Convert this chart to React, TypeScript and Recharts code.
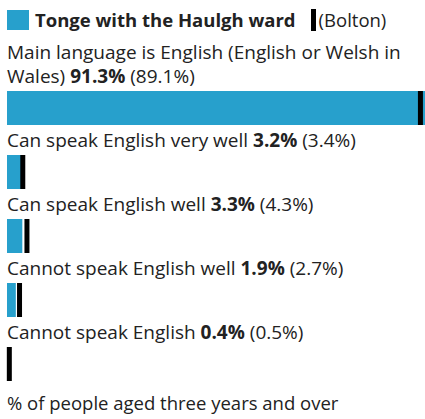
import React from "react";
import { Bar, BarChart, XAxis, YAxis } from "recharts";

// Tonge with the Haulgh ward vs Bolton — English proficiency, % of people aged 3+
const categories = [
  "Main language is English (English or Welsh in Wales)",
  "Can speak English very well",
  "Can speak English well",
  "Cannot speak English well",
  "Cannot speak English",
];
const wardValues = [91.3, 3.2, 3.3, 1.9, 0.4];
const boltonValues = [89.1, 3.4, 4.3, 2.7, 0.5];

const AREA_NAME = "Tonge with the Haulgh ward";
const COMPARE_NAME = "(Bolton)";
const FOOTNOTE = "% of people aged three years and over";

const BLUE = "#27a0cc";
const INK = "#222";
const FONT = "'Open Sans', sans-serif";
const FS = 19;
const FS_SMALL = 18.5;
const LINE_H = 24;
const WRAP_W = 414;

const data = categories.map((name, i) => ({
  name,
  ward: wardValues[i],
  bolton: boltonValues[i],
}));

let ctx: CanvasRenderingContext2D | null = null;
function measure(s: string, bold: boolean) {
  if (!ctx) ctx = document.createElement("canvas").getContext("2d");
  if (!ctx) return s.length * FS * 0.55;
  ctx.font = `${bold ? 700 : 400} ${FS}px ${FONT}`;
  return ctx.measureText(s).width;
}

type Word = { t: string; bold: boolean };

// simple word wrap so the long first label breaks like the original
function wrap(words: Word[]): Word[][] {
  const lines: Word[][] = [[]];
  let w = 0;
  const space = measure(" ", false);
  for (const wd of words) {
    const ww = measure(wd.t, wd.bold);
    const cur = lines[lines.length - 1];
    if (cur.length && w + space + ww > WRAP_W) {
      lines.push([wd]);
      w = ww;
    } else {
      w += (cur.length ? space : 0) + ww;
      cur.push(wd);
    }
  }
  return lines;
}

function BarWithMarker(props: any) {
  const { x, y, width, height, payload } = props;
  const perUnit = width / payload.ward;
  const mx = x + payload.bolton * perUnit;
  const words: Word[] = [
    ...payload.name.split(" ").map((t: string) => ({ t, bold: false })),
    { t: `${payload.ward}%`, bold: true },
    { t: `(${payload.bolton}%)`, bold: false },
  ];
  const lines = wrap(words);
  const baseY = y - 8;
  return (
    <g>
      {lines.map((ln, li) => (
        <text
          key={li}
          x={x}
          y={baseY - (lines.length - 1 - li) * LINE_H}
          fontFamily={FONT}
          fontSize={FS}
          fill={INK}
        >
          {ln.map((wd, wi) => (
            <tspan key={wi} fontWeight={wd.bold ? 700 : 400}>
              {(wi ? " " : "") + wd.t}
            </tspan>
          ))}
        </text>
      ))}
      <rect x={x} y={y} width={width} height={height} fill={BLUE} />
      <rect x={mx - 2.5} y={y} width={5} height={height} fill="#000" />
    </g>
  );
}

export default function App() {
  return (
    <div
      style={{
        position: "absolute",
        left: 0,
        top: 0,
        width: 425,
        height: 419,
        overflow: "hidden",
        fontFamily: FONT,
        color: INK,
        background: "#fff",
      }}
    >
      <div
        style={{
          position: "absolute",
          left: 7,
          top: 9,
          display: "flex",
          alignItems: "center",
          fontSize: FS_SMALL,
          lineHeight: "22px",
        }}
      >
        <span style={{ width: 22, height: 20, background: BLUE, display: "inline-block" }} />
        <span style={{ fontWeight: 700, marginLeft: 6 }}>{AREA_NAME}</span>
        <span
          style={{ width: 5, height: 22, background: "#000", display: "inline-block", marginLeft: 15 }}
        />
        <span style={{ marginLeft: 3 }}>{COMPARE_NAME}</span>
      </div>
      <BarChart
        width={471}
        height={419}
        data={data}
        layout="vertical"
        margin={{ top: 76, right: 0, bottom: 23, left: 7 }}
      >
        <XAxis type="number" domain={[0, 100]} hide />
        <YAxis type="category" dataKey="name" hide width={0} />
        <Bar dataKey="ward" barSize={34} shape={BarWithMarker} isAnimationActive={false} />
      </BarChart>
      <div
        style={{
          position: "absolute",
          left: 7,
          top: 392,
          fontSize: FS_SMALL,
          lineHeight: "22px",
          whiteSpace: "nowrap",
        }}
      >
        {FOOTNOTE}
      </div>
    </div>
  );
}
